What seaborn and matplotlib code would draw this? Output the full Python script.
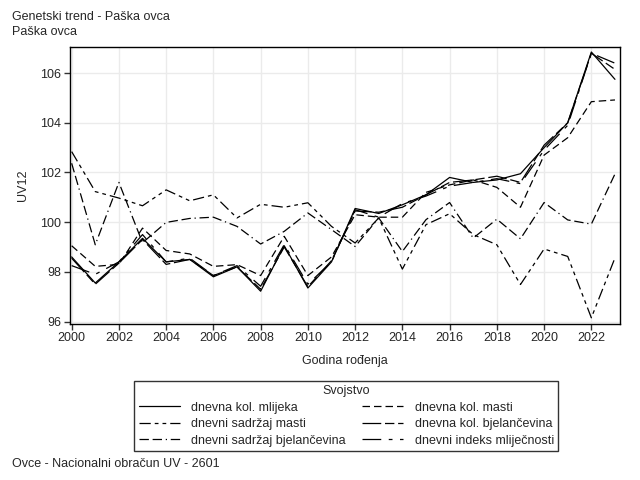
import numpy as np
import pandas as pd
import matplotlib
matplotlib.use("Agg")
import matplotlib.pyplot as plt
import seaborn as sns

# godine rođenja
godine = list(range(2000, 2024))

# uzgojne vrijednosti (UV12) po svojstvu, očitano s grafa
mlijeko = [98.6, 97.55, 98.4, 99.35, 98.4, 98.5, 97.8, 98.2, 97.22, 99.05, 97.35, 98.4,
           100.55, 100.35, 100.7, 101.1, 101.8, 101.6, 101.7, 101.95, 103.0, 104.0, 106.85, 105.75]
kol_masti = [99.05, 98.22, 98.3, 99.76, 98.86, 98.72, 98.22, 98.29, 97.85, 99.43, 97.85, 98.6,
             100.3, 100.2, 100.2, 101.2, 101.5, 101.7, 101.4, 100.6, 102.7, 103.4, 104.85, 104.92]
sadrzaj_masti = [102.84, 101.23, 100.97, 100.66, 101.3, 100.86, 101.1, 100.17, 100.72, 100.6, 100.78, 99.83,
                 99.16, 100.17, 98.11, 99.9, 100.34, 99.5, 99.09, 97.49, 98.92, 98.62, 96.15, 98.56]
kol_bjel = [98.55, 97.5, 98.35, 99.3, 98.3, 98.5, 97.85, 98.2, 97.3, 99.0, 97.4, 98.45,
            100.45, 100.4, 100.6, 101.1, 101.6, 101.7, 101.85, 101.6, 103.1, 104.0, 106.8, 106.15]
sadrzaj_bjel = [102.37, 99.09, 101.6, 99.17, 99.99, 100.15, 100.2, 99.83, 99.12, 99.63, 100.37, 99.7,
                99.02, 100.17, 98.82, 100.1, 100.79, 99.36, 100.12, 99.33, 100.79, 100.09, 99.92, 101.94]
indeks = [98.25, 97.9, 98.4, 99.5, 98.4, 98.55, 97.85, 98.25, 97.42, 99.1, 97.5, 98.4,
          100.5, 100.2, 100.75, 101.05, 101.45, 101.6, 101.75, 101.55, 102.9, 103.9, 106.8, 106.4]

svojstva = ["dnevna kol. mlijeka", "dnevna kol. masti", "dnevni sadržaj masti",
            "dnevna kol. bjelančevina", "dnevni sadržaj bjelančevina", "dnevni indeks mliječnosti"]
serije = [mlijeko, kol_masti, sadrzaj_masti, kol_bjel, sadrzaj_bjel, indeks]

df = pd.concat([pd.DataFrame({"Godina": godine, "UV12": v, "Svojstvo": s})
                for s, v in zip(svojstva, serije)], ignore_index=True)

crte = {
    "dnevna kol. mlijeka": "",
    "dnevna kol. masti": (6.0, 3.2),
    "dnevni sadržaj masti": (9.0, 3.2, 3.0, 3.2, 3.0, 3.2),
    "dnevna kol. bjelančevina": (15, 3.0, 7.5, 3.0),
    "dnevni sadržaj bjelančevina": (7.5, 3.0, 7.5, 3.0, 1.0, 3.0),
    "dnevni indeks mliječnosti": (15, 6.0, 3.0, 6.0),
}

sns.set_theme(style="ticks")
plt.rcParams["font.family"] = ["Liberation Sans", "DejaVu Sans"]
plt.rcParams["font.size"] = 9

fig = plt.figure(figsize=(6.4, 4.8), dpi=100)
ax = fig.add_axes([0.109, 0.325, 0.86, 0.577])

sns.lineplot(data=df, x="Godina", y="UV12", hue="Svojstvo", style="Svojstvo",
             palette=["black"] * 6, dashes=crte, linewidth=0.9, ax=ax)

ax.set_xlim(1999.92, 2023.22)
ax.set_ylim(95.9, 107.05)
ax.set_xticks(range(2000, 2024, 2))
ax.set_yticks(range(96, 107, 2))
ax.grid(True, color="#ebebeb", linewidth=1)
ax.set_axisbelow(True)
for sp in ax.spines.values():
    sp.set_color("black")
    sp.set_linewidth(1)
ax.tick_params(axis="both", direction="out", length=4, width=1, color="#333333",
               labelsize=9, pad=2)
ax.set_xlabel("Godina rođenja", fontsize=9, labelpad=8)
ax.set_ylabel("UV12", fontsize=9, labelpad=8)

# legenda ispod grafa
h, l = ax.get_legend_handles_labels()
ax.get_legend().remove()
red = [0, 2, 4, 1, 3, 5]
leg = fig.legend([h[i] for i in red], [l[i] for i in red], title="Svojstvo", ncol=2,
                 loc="upper center", bbox_to_anchor=(0.541, 0.206), fontsize=9,
                 title_fontsize=9, frameon=True, fancybox=False, edgecolor="black",
                 handlelength=3.3, handletextpad=0.9, columnspacing=1.3,
                 labelspacing=0.35, borderpad=0.35, borderaxespad=0)
leg.get_frame().set_linewidth(1)

fig.text(0.019, 0.965, "Genetski trend - Paška ovca", fontsize=9, va="center")
fig.text(0.019, 0.933, "Paška ovca", fontsize=9, va="center")
fig.text(0.019, 0.033, "Ovce - Nacionalni obračun UV - 2601", fontsize=9, va="center")

fig.savefig("out.png", dpi=100)
